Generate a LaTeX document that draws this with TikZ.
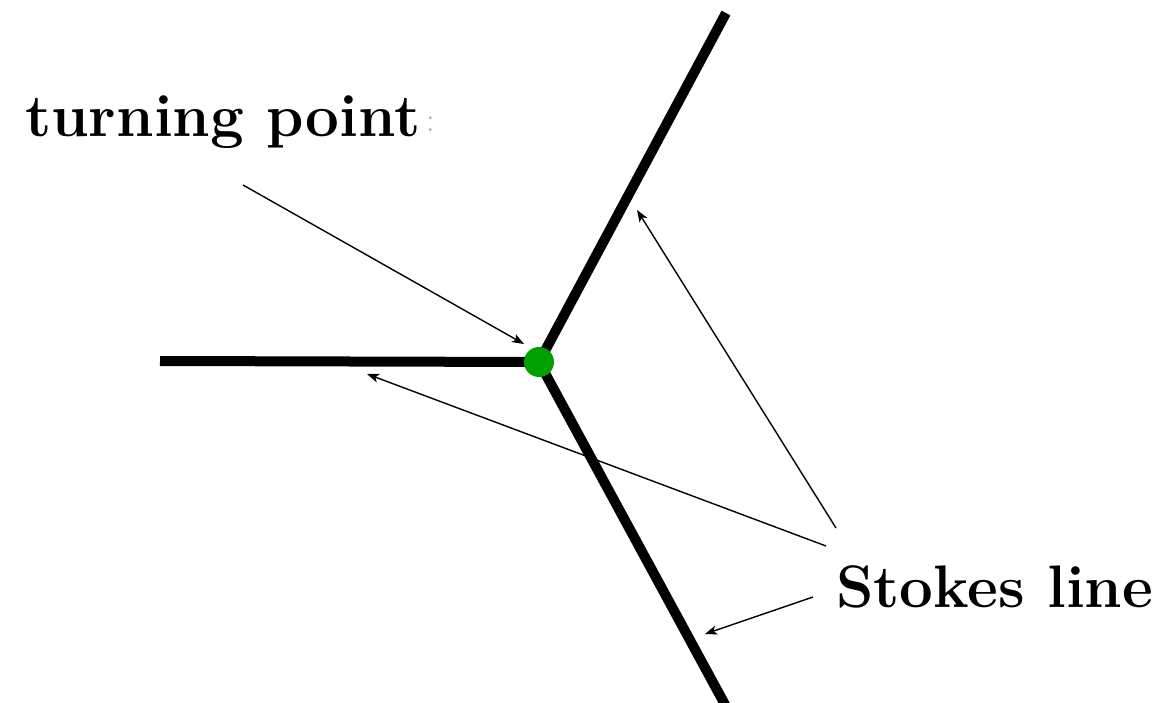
\documentclass[tikz,border=0pt]{standalone}
\usetikzlibrary{arrows.meta}
\definecolor{dotgreen}{RGB}{0,160,0}
\tikzset{
  stokes/.style={line width=10pt},
  pointer/.style={line width=1.4pt,-{Stealth[length=12pt,width=9pt,inset=3pt]}},
  lbl/.style={font=\fontsize{60}{70}\selectfont\bfseries,inner sep=0pt}
}
\begin{document}
\begin{tikzpicture}[x=1pt,y=-1pt]
\useasboundingbox (0,0) rectangle (1171,703);
\coordinate (c) at (539,362);
\coordinate (L) at (160,361);
\coordinate (U) at (726,13);
\coordinate (D) at (729,712);
\draw[stokes] (c) -- (L);
\draw[stokes] (c) -- (U);
\draw[stokes] (c) -- (D);
\node[circle,fill=dotgreen,minimum size=30pt,inner sep=0pt] (tp) at (c) {};
\node[lbl,anchor=base west] (tlab) at (25,137) {turning point};
\node[lbl,anchor=base west,text=black!35,font=\fontsize{34}{34}\selectfont] (colon) at (426,132) {:};
\node[lbl,anchor=base west] (slab) at (836,607) {Stokes line};
\coordinate (a1s) at (243,185);
\coordinate (a1e) at (524,344);
\coordinate (a2s) at (836,528);
\coordinate (a2e) at (637,210);
\coordinate (a3s) at (826,546);
\coordinate (a3e) at (367,374);
\coordinate (a4s) at (813,597);
\coordinate (a4e) at (705,634);
\draw[pointer] (a1s) -- (a1e);
\draw[pointer] (a2s) -- (a2e);
\draw[pointer] (a3s) -- (a3e);
\draw[pointer] (a4s) -- (a4e);
\end{tikzpicture}
\end{document}
